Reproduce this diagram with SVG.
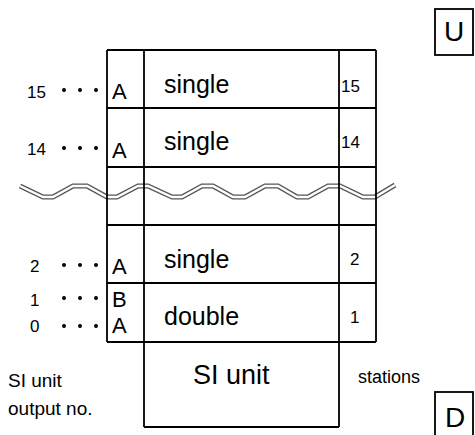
<svg xmlns="http://www.w3.org/2000/svg" width="475" height="435" viewBox="0 0 475 435">
<style>
text{font-family:"Liberation Sans",Arial,sans-serif;fill:#000}
.ln{stroke:#000;stroke-width:1.8;fill:none}
.big{font-size:25px}
.ab{font-size:22px}
.num{font-size:17px}
.rn{font-size:17px}
.lab{font-size:19px}
.box{font-size:28px}
.wave-o{fill:none;stroke:#555;stroke-width:5}
.wave-i{fill:none;stroke:#fff;stroke-width:2.4}
</style>
<defs>
<path id="wave" d="M20,186 L43,197 L53,197 L73,186 L87,186 L107,197 L117,197 L138,186 L148,186 L172,197 L182,197 L202,186 L213,186 L233,197 L245,197 L265,186 L278,186 L297,197 L308,197 L328,186 L340,186 L363,197 L375,197 L395,185"/>
</defs>
<rect width="475" height="435" fill="#fff"/>
<g id="break">
<use href="#wave" class="wave-o"/>
<use href="#wave" class="wave-i"/>
</g>
<g id="connectors">
<path class="ln" d="M107,50 V342 M144,50 V427 M339,50 V427 M376,50 V342"/>
<path class="ln" d="M107,50 H376 M107,108 H376 M107,167 H376 M107,225 H376 M107,283 H376 M107,342 H376 M144,427 H339"/>
<g fill="#000">
<circle cx="64" cy="90" r="2"/><circle cx="80" cy="90" r="2"/><circle cx="96" cy="90" r="2"/>
<circle cx="64" cy="148" r="2"/><circle cx="80" cy="148" r="2"/><circle cx="96" cy="148" r="2"/>
<circle cx="64" cy="265" r="2"/><circle cx="80" cy="265" r="2"/><circle cx="96" cy="265" r="2"/>
<circle cx="64" cy="298" r="2"/><circle cx="80" cy="298" r="2"/><circle cx="96" cy="298" r="2"/>
<circle cx="64" cy="326" r="2"/><circle cx="80" cy="326" r="2"/><circle cx="96" cy="326" r="2"/>
</g>
</g>
<g id="row15">
<text class="num" x="27" y="98">15</text>
<text class="ab" x="112" y="99">A</text>
<text class="big" x="164" y="93">single</text>
<text class="rn" x="341" y="92">15</text>
</g>
<g id="row14">
<text class="num" x="27" y="155">14</text>
<text class="ab" x="112" y="158">A</text>
<text class="big" x="164" y="150">single</text>
<text class="rn" x="341" y="148">14</text>
</g>
<g id="row2">
<text class="num" x="30" y="272">2</text>
<text class="ab" x="112" y="274">A</text>
<text class="big" x="164" y="268">single</text>
<text class="rn" x="350" y="265">2</text>
</g>
<g id="row1">
<text class="num" x="30" y="306">1</text>
<text class="num" x="30" y="332">0</text>
<text class="ab" x="112" y="307">B</text>
<text class="ab" x="112" y="333">A</text>
<text class="big" x="164" y="325">double</text>
<text class="rn" x="350" y="323">1</text>
</g>
<g id="si-unit">
<text class="box" x="193" y="384" style="font-size:27px">SI unit</text>
</g>
<g id="labels">
<text class="lab" x="8" y="387">SI unit</text>
<text class="lab" x="8" y="415">output no.</text>
<text class="lab" x="358" y="383" style="font-size:18px">stations</text>
</g>
<g id="U">
<rect class="ln" x="435" y="9" width="38" height="46"/>
<text class="box" x="454" y="41" text-anchor="middle">U</text>
</g>
<g id="D">
<rect class="ln" x="435" y="392" width="38" height="46"/>
<text class="box" x="455" y="427" text-anchor="middle">D</text>
</g>
</svg>
